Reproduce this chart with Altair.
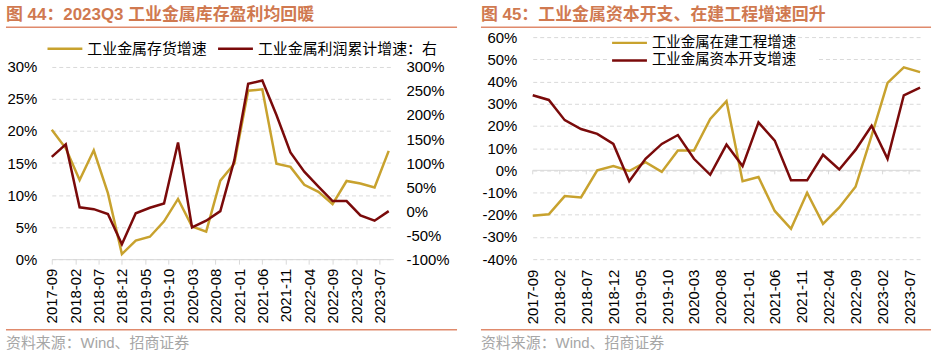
import altair as alt
import pandas as pd

# ---------------- data ----------------
quarters = ["2017-09", "2017-12", "2018-03", "2018-06", "2018-09", "2018-12",
            "2019-03", "2019-06", "2019-09", "2019-12", "2020-03", "2020-06",
            "2020-09", "2020-12", "2021-03", "2021-06", "2021-09", "2021-12",
            "2022-03", "2022-06", "2022-09", "2022-12", "2023-03", "2023-06",
            "2023-09"]

# left panel (图 44)
inventory_growth = [20.2, 17.3, 12.35, 17.0, 10.3, 0.8, 2.9, 3.5, 5.9, 9.4, 5.1, 4.3,
                    12.25, 14.9, 26.3, 26.5, 14.9, 14.4, 11.6, 10.5, 8.6, 12.2, 11.8,
                    11.2, 16.9]
profit_growth = [113, 139, 8, 4, -6, -69, -4.5, 7, 16, 143, -34, -20,
                 0, 106, 265, 272, 200, 122, 82, 51, 21, 21, -9, -20, 0]

# right panel (图 45)
cip_growth = [-20.5, -19.8, -11.6, -12.2, 0.0, 1.9, -0.3, 3.7, -0.7, 8.9, 8.9, 23.1,
              31.2, -4.9, -3.0, -18.3, -26.3, -10.1, -24.1, -16.7, -7.4, 15.6, 39.4,
              46.4, 44.2]
capex_growth = [33.8, 31.7, 22.6, 18.6, 16.4, 11.9, -4.9, 5.2, 11.9, 15.9, 5.2, -2.0,
                11.6, 1.9, 21.6, 13.4, -4.5, -4.5, 7.0, 0.4, 9.2, 20.1, 5.2, 33.8, 37.2]

tick_labels = ["2017-09", "2018-02", "2018-07", "2018-12", "2019-05", "2019-10",
               "2020-03", "2020-08", "2021-01", "2021-06", "2021-11", "2022-04",
               "2022-09", "2023-02", "2023-07"]
left_y_ticks = [0, 5, 10, 15, 20, 25, 30]
left_y2_ticks = [-100, -50, 0, 50, 100, 150, 200, 250, 300]
right_y_ticks = [-40, -30, -20, -10, 0, 10, 20, 30, 40, 50, 60]

titles = ["图 44：2023Q3 工业金属库存盈利均回暖", "图 45：工业金属资本开支、在建工程增速回升"]
left_series = ["工业金属存货增速", "工业金属利润累计增速：右"]
right_series = ["工业金属在建工程增速", "工业金属资本开支增速"]
source_text = "资料来源：Wind、招商证券"

# ---------------- styles ----------------
GOLD = "#C8A22E"
RED = "#7A0A0A"
TITLE_C = "#D07950"
RULE_C = "#E08A6C"
GRID_C = "#D9D9D9"
SRC_C = "#A6A6A6"
FONT = "Liberation Sans, Noto Sans CJK SC"
CJK = "Noto Sans CJK SC, Liberation Sans"
H = 223


def to_date(s):
    return s.replace("-", "/") + "/01"


def dt(s):
    return alt.DateTime(year=int(s[:4]), month=int(s[5:7]), date=1)


def x_enc(domain_end, bottom_axis_line):
    if bottom_axis_line:
        ax = alt.Axis(values=[dt(t) for t in tick_labels], format="%Y-%m", labelAngle=270,
                      labelFont=FONT, labelFontSize=15, labelColor="#000", labelPadding=4,
                      labelFlush=False, labelOverlap=False, ticks=True, tickSize=5,
                      tickColor=GRID_C, domain=True, domainColor=GRID_C, grid=False, title=None)
    else:
        ax = alt.Axis(values=[dt(t) for t in tick_labels], format="%Y-%m", labelAngle=270,
                      labelFont=FONT, labelFontSize=15, labelColor="#000", labelPadding=10,
                      labelFlush=False, labelOverlap=False, ticks=False, tickSize=0,
                      domain=False, grid=False, title=None)
    return alt.X("date:T", scale=alt.Scale(domain=[dt("2017-09"), dt(domain_end)], nice=False),
                 axis=ax)


def pct_axis(values, orient, grid, pad):
    return alt.Axis(values=values, labelExpr="datum.value + '%'", orient=orient, grid=grid,
                    gridColor=GRID_C, gridDash=[4, 3], domain=False, ticks=False, tickSize=0,
                    labelPadding=pad, labelFont=FONT, labelFontSize=15, labelColor="#000",
                    labelOverlap=False, labelFlush=False, tickCount=len(values), title=None)


def text_layer(s, x, y, size, color, font, weight="normal"):
    return alt.Chart(pd.DataFrame({"t": [s]})).mark_text(
        align="left", baseline="middle", font=font, fontSize=size, color=color,
        fontWeight=weight).encode(x=alt.value(x), y=alt.value(y), text="t:N")


def hrule(x0, x1, y, color, width):
    return alt.Chart(pd.DataFrame({"r": [0]})).mark_rule(color=color, strokeWidth=width).encode(
        x=alt.value(x0), x2=alt.value(x1), y=alt.value(y))


def legend_entry(name, color, x0, y, size=15):
    line = hrule(x0, x0 + 35, y, color, 2.5)
    txt = text_layer(name, x0 + 40, y, size, "#000", CJK)
    return [line, txt]


def frame(title, x0, x1):
    return [text_layer(title, x0, -22, 17, TITLE_C, FONT, "bold"),
            hrule(x0, x1, -10, RULE_C, 1.5),
            hrule(x0, x1, 294, RULE_C, 1.5),
            text_layer(source_text, x0, 307, 15, SRC_C, FONT)]


# ---------------- left panel ----------------
W1 = 343
df_left = pd.DataFrame({"date": [to_date(q) for q in quarters],
                        "inv": inventory_growth, "profit": profit_growth})
xl = x_enc("2023-10", True)
gold_left = alt.Chart(df_left).mark_line(color=GOLD, strokeWidth=2.5).encode(
    x=xl,
    y=alt.Y("inv:Q", scale=alt.Scale(domain=[0, 34.66], nice=False, zero=False),
            axis=pct_axis(left_y_ticks, "left", True, 15)))
red_left = alt.Chart(df_left).mark_line(color=RED, strokeWidth=2.5).encode(
    x=xl,
    y=alt.Y("profit:Q", scale=alt.Scale(domain=[-100, 362.2], nice=False, zero=False),
            axis=pct_axis(left_y2_ticks, "right", False, 12.7)))

left_layers = [gold_left, red_left]
left_layers += legend_entry(left_series[0], GOLD, -4.3, 11.7)
left_layers += legend_entry(left_series[1], RED, 167, 11.7)
left_layers += frame(titles[0], -46, 407)
left = alt.layer(*left_layers).resolve_scale(y="independent").properties(width=W1, height=H)

# ---------------- right panel ----------------
W2 = 389
df_right = pd.DataFrame({"date": [to_date(q) for q in quarters],
                         "cip": cip_growth, "capex": capex_growth})
df_ticks = pd.DataFrame({"date": [to_date(t) for t in tick_labels]})
xr = x_enc("2023-09", False)
yscale_r = alt.Scale(domain=[-40, 60], nice=False, zero=False)
yaxis_r = pct_axis(right_y_ticks, "left", True, 16)

gold_right = alt.Chart(df_right).mark_line(color=GOLD, strokeWidth=2.5).encode(
    x=xr, y=alt.Y("cip:Q", scale=yscale_r, axis=yaxis_r))
red_right = alt.Chart(df_right).mark_line(color=RED, strokeWidth=2.5).encode(
    x=xr, y=alt.Y("capex:Q", scale=yscale_r, axis=yaxis_r))
zero_line = alt.Chart(pd.DataFrame({"r": [0]})).mark_rule(color=GRID_C, strokeWidth=1).encode(
    x=alt.value(0), x2=alt.value(W2), y=alt.datum(0, scale=yscale_r, axis=yaxis_r))
zero_ticks = alt.Chart(df_ticks).mark_rule(color=GRID_C, strokeWidth=1).encode(
    x=xr, y=alt.datum(0, scale=yscale_r, axis=yaxis_r), y2=alt.datum(-1.8))
legend_bg = alt.Chart(pd.DataFrame({"r": [0]})).mark_rect(color="white").encode(
    x=alt.value(76), x2=alt.value(285), y=alt.value(1.5), y2=alt.value(31))

right_layers = [zero_line, zero_ticks, gold_right, red_right, legend_bg]
right_layers += legend_entry(right_series[0], GOLD, 79.7, 5.8, 14.5)
right_layers += legend_entry(right_series[1], RED, 79.7, 23.5, 14.5)
right_layers += frame(titles[1], -52, 400)
right = alt.layer(*right_layers).properties(width=W2, height=H)

chart = alt.hconcat(left, right, spacing=22).configure_view(stroke=None).properties(
    padding={"left": 5, "top": 5.5, "right": 5, "bottom": 3}, background="white")

chart.save("out.html", embed_options={"renderer": "svg", "actions": False})
